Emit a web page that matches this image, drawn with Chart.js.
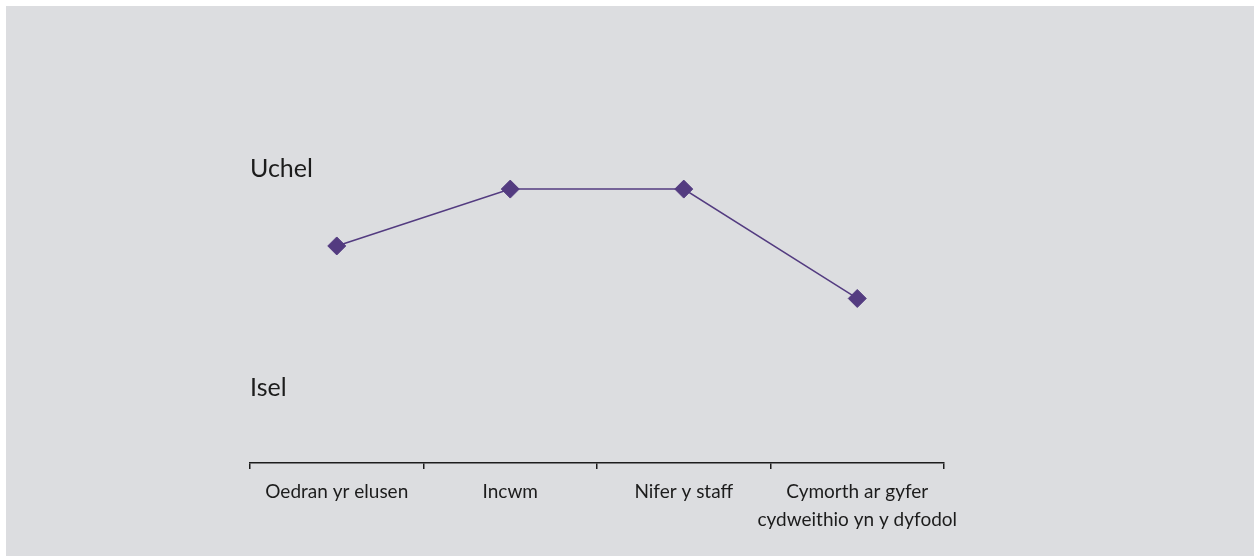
<!DOCTYPE html>
<html>
<head>
<meta charset="utf-8">
<script src="https://cdn.jsdelivr.net/npm/chart.js@4.4.1/dist/chart.umd.min.js"></script>
<style>
  html, body { margin: 0; padding: 0; background: #ffffff; }
  #panel {
    position: absolute; left: 6px; top: 6px;
    width: 1248px; height: 550px;
    background: #dcdde0;
  }
</style>
</head>
<body>
<div id="panel"><canvas id="lineChart"></canvas></div>
<script>
// * data
const categories = [
  "Oedran yr elusen",
  "Incwm",
  "Nifer y staff",
  ["Cymorth ar gyfer", "cydweithio yn y dyfodol"],
];
const levels = [6.5, 9.1, 9.1, 4.1];
const yTickValues = [0, 10];
const yTickLabels = ["Isel", "Uchel"];

const purple = "#533b80";
const ink = "#1c1c1c";

const ctx = document.getElementById("lineChart").getContext("2d");
const chart = new Chart(ctx, {
  type: "line",
  data: {
    labels: categories,
    datasets: [
      {
        data: levels,
        borderColor: purple,
        borderWidth: 1.5,
        backgroundColor: purple,
        pointStyle: "rectRot",
        pointRadius: 9,
        pointBorderWidth: 1,
        pointBorderColor: purple,
        pointBackgroundColor: purple,
        tension: 0,
      },
    ],
  },
  options: {
    responsive: true,
    maintainAspectRatio: false,
    animation: false,
    layout: { padding: { top: 54, left: 244, right: 310, bottom: 0 } },
    plugins: { legend: { display: false }, tooltip: { enabled: false } },
    scales: {
      x: {
        type: "category",
        offset: true,
        afterFit: (scale) => { scale.height = 93; },
        grid: {
          offset: true,
          drawOnChartArea: false,
          drawTicks: true,
          tickLength: 6,
          color: ink,
          lineWidth: 1.5,
        },
        border: { display: true, color: ink, width: 1.5 },
        ticks: {
          color: ink,
          padding: 9,
          maxRotation: 0,
          autoSkip: false,
          font: { family: "Lato", size: 19, lineHeight: 1.47 },
        },
      },
      y: {
        min: -3.42,
        max: 15,
        afterFit: (scale) => { scale.width = 0; },
        afterBuildTicks: (scale) => {
          scale.ticks = yTickValues.map((v) => ({ value: v }));
        },
        grid: { display: false },
        border: { display: false },
        ticks: {
          mirror: true,
          padding: 0,
          color: ink,
          font: { family: "Lato", size: 25 },
          callback: (value) => yTickLabels[yTickValues.indexOf(value)],
        },
      },
    },
  },
});
</script>
</body>
</html>
